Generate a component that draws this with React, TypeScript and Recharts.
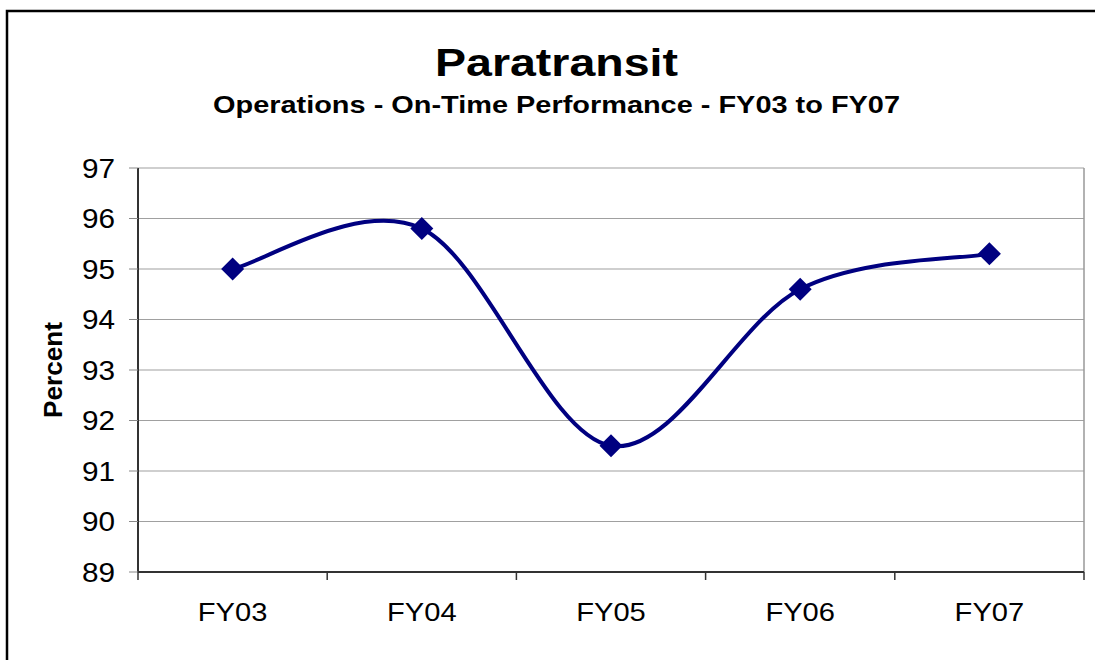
import React from 'react';
import { LineChart, Line, XAxis, YAxis, CartesianGrid, ReferenceLine } from 'recharts';

const categories = ['FY03', 'FY04', 'FY05', 'FY06', 'FY07'];
const onTimePercent = [95.0, 95.8, 91.5, 94.6, 95.3];
const yTicks = [89, 90, 91, 92, 93, 94, 95, 96, 97];
const xTicks = [0, 0.5, 1, 1.5, 2, 2.5, 3, 3.5, 4, 4.5, 5];

const chartData = categories.map((name, i) => ({ name, x: i + 0.5, val: onTimePercent[i] }));

const NAVY = '#000080';
const FONT = '"Liberation Sans", Arial, sans-serif';

// Excel-style smoothed line: cubic bezier with control points at 1/6 of neighbour spans
const excelCurve = (context: any) => {
  let pts: number[][] = [];
  return {
    areaStart() {},
    areaEnd() {},
    lineStart() { pts = []; },
    point(x: number, y: number) { pts.push([+x, +y]); },
    lineEnd() {
      const n = pts.length;
      if (!n) return;
      context.moveTo(pts[0][0], pts[0][1]);
      for (let i = 0; i < n - 1; i++) {
        const pp = pts[Math.max(i - 1, 0)];
        const p0 = pts[i];
        const p1 = pts[i + 1];
        const p2 = pts[Math.min(i + 2, n - 1)];
        context.bezierCurveTo(
          p0[0] + (p1[0] - pp[0]) / 6, p0[1] + (p1[1] - pp[1]) / 6,
          p1[0] - (p2[0] - p0[0]) / 6, p1[1] - (p2[1] - p0[1]) / 6,
          p1[0], p1[1]
        );
      }
    },
  };
};

const XTick = (props: any) => {
  const { x, y, payload } = props;
  const v = payload.value;
  if (Number.isInteger(v)) {
    return <line x1={x} x2={x} y1={y} y2={y + 8} stroke="#333" strokeWidth={1.5} />;
  }
  const label = categories[Math.floor(v)];
  return (
    <text transform={`translate(${x},${y + 49}) scale(1.12,1)`} textAnchor="middle" fontFamily={FONT} fontSize={26} fill="#000">
      {label}
    </text>
  );
};

const YTick = (props: any) => {
  const { x, y, payload } = props;
  return (
    <text transform={`translate(${x},${y + 9.5}) scale(1.1,1)`} textAnchor="end" fontFamily={FONT} fontSize={27} fill="#000">
      {payload.value}
    </text>
  );
};

const Diamond = (props: any) => {
  const { cx, cy, index } = props;
  const r = 11.5;
  return (
    <polygon
      key={`dot-${index}`}
      points={`${cx},${cy - r} ${cx + r},${cy} ${cx},${cy + r} ${cx - r},${cy}`}
      fill={NAVY}
    />
  );
};

const App: React.FC = () => {
  return (
    <div style={{ position: 'absolute', left: 0, top: 0, width: 1095, height: 660, background: '#fff' }}>
      <LineChart
        width={1095}
        height={660}
        data={chartData}
        margin={{ top: 168, right: 11, left: 78, bottom: 28 }}
      >
        <CartesianGrid vertical={false} stroke="#a0a0a0" strokeWidth={1.2} />
        <XAxis
          dataKey="x"
          type="number"
          domain={[0, 5]}
          ticks={xTicks}
          interval={0}
          height={60}
          tickSize={0}
          tickMargin={0}
          tickLine={false}
          tick={<XTick />}
          axisLine={{ stroke: '#333', strokeWidth: 2 }}
        />
        <YAxis
          type="number"
          domain={[89, 97]}
          ticks={yTicks}
          interval={0}
          width={60}
          tickSize={9}
          tickMargin={14}
          tick={<YTick />}
          tickLine={{ stroke: '#888' }}
          axisLine={{ stroke: '#333', strokeWidth: 2 }}
        />
        <ReferenceLine x={5} stroke="#999" strokeWidth={1.5} />
        <Line
          type={excelCurve as any}
          dataKey="val"
          stroke={NAVY}
          strokeWidth={4}
          dot={Diamond}
          activeDot={false}
          isAnimationActive={false}
        />
      </LineChart>
      <svg width={1095} height={660} style={{ position: 'absolute', left: 0, top: 0, pointerEvents: 'none' }}>
        <rect x={7} y={11} width={1200} height={800} fill="none" stroke="#000" strokeWidth={2.5} />
        <text x={435} y={76} fontFamily={FONT} fontWeight="bold" fontSize={38} textLength={243} lengthAdjust="spacingAndGlyphs">
          Paratransit
        </text>
        <text x={213} y={113} fontFamily={FONT} fontWeight="bold" fontSize={24} textLength={687} lengthAdjust="spacingAndGlyphs">
          Operations - On-Time Performance - FY03 to FY07
        </text>
        <text
          transform="translate(62,370) rotate(-90)"
          textAnchor="middle"
          fontFamily={FONT}
          fontWeight="bold"
          fontSize={26}
          textLength={96}
          lengthAdjust="spacingAndGlyphs"
        >
          Percent
        </text>
      </svg>
    </div>
  );
};

export default App;
